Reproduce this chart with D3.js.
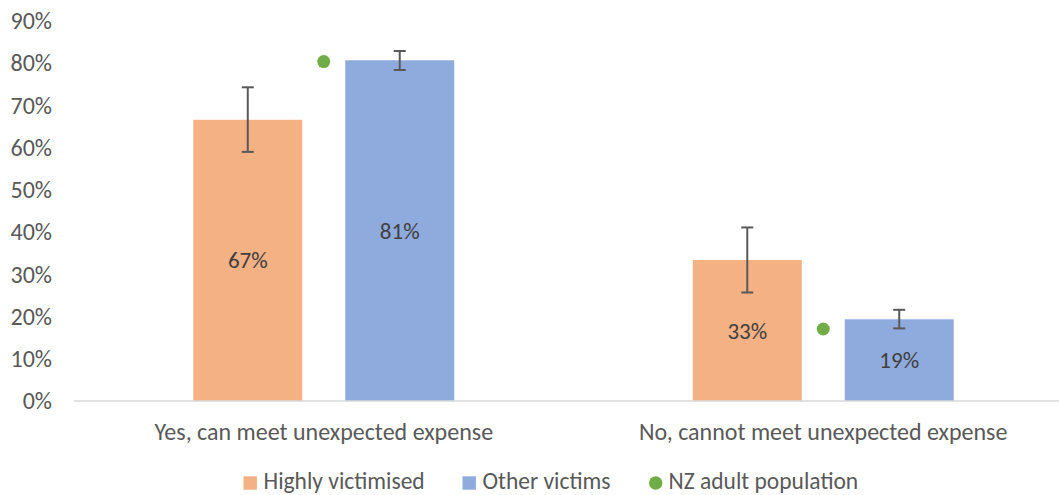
<!DOCTYPE html>
<html><head><meta charset="utf-8">
<script src="https://cdn.jsdelivr.net/npm/d3@7"></script>
<style>
html,body{margin:0;padding:0;background:#fff;}
svg{display:block;font-family:Carlito,Calibri,"Liberation Sans",sans-serif;}
</style></head>
<body><svg id="chart" width="1059" height="495"></svg>
<script>
const categories = ["Yes, can meet unexpected expense", "No, cannot meet unexpected expense"];
const seriesNames = ["Highly victimised", "Other victims", "NZ adult population"];
const highly = [66.6, 33.4];
const highlyLo = [59.0, 25.7];
const highlyHi = [74.3, 41.1];
const other = [80.7, 19.35];
const otherLo = [78.4, 17.2];
const otherHi = [82.9, 21.6];
const nzPop = [80.4, 17.05];
const yTicks = [0, 10, 20, 30, 40, 50, 60, 70, 80, 90];

const colors = {"Highly victimised": "#F4B183", "Other victims": "#8FAADC", "NZ adult population": "#70AD47"};
const svg = d3.select("#chart");
const x0 = d3.scaleBand().domain(categories).range([74, 1073]).padding(0);
const x1 = d3.scaleBand().domain(["Highly victimised", "Other victims"]).range([0, x0.bandwidth()]).paddingInner(0.283).paddingOuter(0.785);
const y = d3.scaleLinear().domain([0, 90]).range([401, 21]);

// y axis
const ya = svg.append("g").attr("transform", "translate(74,0)")
  .call(d3.axisLeft(y).tickValues(yTicks).tickSize(0).tickPadding(22).tickFormat(d => d + "%"));
ya.attr("font-family", null).attr("font-size", null);
ya.select(".domain").remove();
ya.selectAll("text").attr("fill", "#595959").style("font-size", "24px");

// bars
const bars = [];
categories.forEach((c, i) => {
  bars.push({cat: c, s: "Highly victimised", v: highly[i], lo: highlyLo[i], hi: highlyHi[i]});
  bars.push({cat: c, s: "Other victims", v: other[i], lo: otherLo[i], hi: otherHi[i]});
});
svg.append("g").selectAll("rect").data(bars).join("rect")
  .attr("x", d => x0(d.cat) + x1(d.s))
  .attr("y", d => y(d.v))
  .attr("width", x1.bandwidth())
  .attr("height", d => y(0) - y(d.v))
  .attr("fill", d => colors[d.s]);

// x axis line
svg.append("line").attr("x1", 74).attr("x2", 1059).attr("y1", y(0)).attr("y2", y(0))
  .attr("stroke", "#d9d9d9").attr("stroke-width", 1.5);

// value labels
svg.append("g").selectAll("text").data(bars).join("text")
  .attr("x", d => x0(d.cat) + x1(d.s) + x1.bandwidth() / 2)
  .attr("y", d => (y(0) + y(d.v)) / 2)
  .attr("dy", "0.35em")
  .attr("text-anchor", "middle")
  .attr("fill", "#404040").style("font-size", "23px")
  .text(d => Math.round(d.v) + "%");

// error bars
const eb = svg.append("g").attr("stroke", "#595959").attr("stroke-width", 2);
bars.forEach(d => {
  const cx = x0(d.cat) + x1(d.s) + x1.bandwidth() / 2;
  eb.append("line").attr("x1", cx).attr("x2", cx).attr("y1", y(d.lo)).attr("y2", y(d.hi));
  eb.append("line").attr("x1", cx - 6).attr("x2", cx + 6).attr("y1", y(d.lo)).attr("y2", y(d.lo));
  eb.append("line").attr("x1", cx - 6).attr("x2", cx + 6).attr("y1", y(d.hi)).attr("y2", y(d.hi));
});

// NZ population dots
svg.append("g").selectAll("circle").data(categories).join("circle")
  .attr("cx", c => x0(c) + x0.bandwidth() / 2)
  .attr("cy", (c, i) => y(nzPop[i]))
  .attr("r", 6.5)
  .attr("fill", colors["NZ adult population"]);

// category labels
svg.append("g").selectAll("text").data(categories).join("text")
  .attr("x", c => x0(c) + x0.bandwidth() / 2)
  .attr("y", 440)
  .attr("text-anchor", "middle").attr("fill", "#595959").style("font-size", "24px")
  .text(c => c);

// legend
const legendX = [243.5, 462.5, 649];
const lg = svg.append("g");
seriesNames.forEach((s, i) => {
  const g = lg.append("g").attr("transform", `translate(${legendX[i]},483)`);
  if (i < 2) g.append("rect").attr("x", 0).attr("y", -6.7).attr("width", 13.4).attr("height", 13.4).attr("fill", colors[s]);
  else g.append("circle").attr("cx", 6.7).attr("cy", 0).attr("r", 6.7).attr("fill", colors[s]);
  g.append("text").attr("x", i < 2 ? 20 : 19.5).attr("y", 6)
    .attr("fill", "#595959").style("font-size", "23.5px").text(s);
});
</script></body></html>
